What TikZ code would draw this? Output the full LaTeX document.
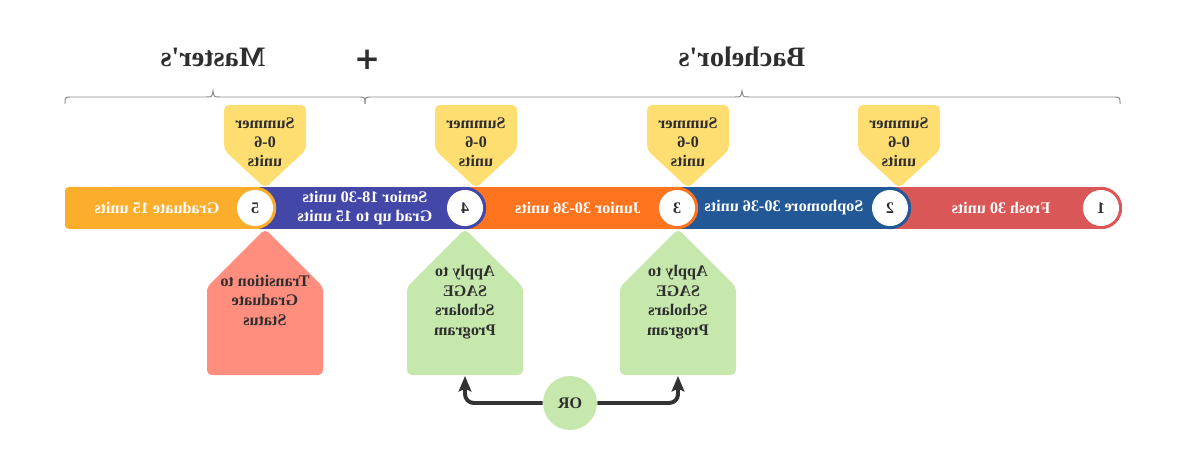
\documentclass[tikz,border=0pt]{standalone}
\usepackage{fontspec}
\setmainfont{Liberation Serif}
\newfontfamily\plusfont{DejaVu Sans}
\usetikzlibrary{arrows.meta}
\definecolor{gradc}{HTML}{FBAD2C}
\definecolor{senc}{HTML}{4347A7}
\definecolor{junc}{HTML}{FF741E}
\definecolor{sophc}{HTML}{235896}
\definecolor{froshc}{HTML}{D95757}
\definecolor{sumc}{HTML}{FEDD71}
\definecolor{salc}{HTML}{FF8E7F}
\definecolor{grnc}{HTML}{C7E8AD}
\definecolor{txtd}{HTML}{2E2E2E}
\definecolor{bracec}{HTML}{8A8A8A}
\definecolor{connc}{HTML}{333333}
\newcommand{\mirr}[1]{\reflectbox{\begin{tabular}{@{}c@{}}#1\end{tabular}}}
\begin{document}
\begin{tikzpicture}[x=0.025cm,y=-0.025cm,
  segtxt/.style={text=white,font=\bfseries\fontsize{11.5}{14}\selectfont,inner sep=0pt},
  numcirc/.style={circle,fill=white,minimum size=0.9cm,inner sep=0pt,text=txtd,font=\bfseries\fontsize{11.5}{14}\selectfont},
  sumtxt/.style={text=txtd,font=\bfseries\fontsize{11.5}{13.5}\selectfont,inner sep=0pt},
  lowtxt/.style={text=txtd,font=\bfseries\fontsize{11.5}{14}\selectfont,inner sep=0pt},
  titletxt/.style={text=txtd,font=\bfseries\fontsize{20}{24}\selectfont,inner sep=0pt},
  bracepath/.style={draw=bracec,line width=0.7pt},
  sumbox/.style={fill=sumc,rounded corners=1.2mm},
  lowbox/.style={rounded corners=1.2mm},
  orcirc/.style={circle,fill=grnc,minimum size=1.35cm,inner sep=0pt,text=txtd,font=\bfseries\fontsize{11.5}{14}\selectfont},
  conn/.style={draw=connc,line width=2.8pt,rounded corners=2.2mm,-{Stealth[length=11pt,width=9pt,inset=2pt]}}
]
\useasboundingbox (0,0) rectangle (1200,464);

% titles
\node[titletxt] (tmas) at (213,57) {\reflectbox{Master\textquotesingle s}};
\node[titletxt,font=\plusfont\bfseries\fontsize{22}{24}\selectfont] (tplus) at (368,60) {\reflectbox{+}};
\node[titletxt] (tbac) at (742,57) {\reflectbox{Bachelor\textquotesingle s}};

% braces
\draw[bracepath] (65,104) .. controls (65,97) .. (72,97) -- (206,97) .. controls (212,97) .. (213,91) .. controls (214,97) .. (220,97) -- (358,97) .. controls (365,97) .. (365,104);
\draw[bracepath] (365,104) .. controls (365,97) .. (372,97) -- (735,97) .. controls (741,97) .. (742,91) .. controls (743,97) .. (749,97) -- (1113,97) .. controls (1120,97) .. (1120,104);

% summer boxes
\foreach \cx/\nm in {265/s5,476/s4,688/s3,899/s2}{
  \fill[sumbox] (\cx-41,105) -- (\cx+41,105) -- (\cx+41,150) -- (\cx,188) -- (\cx-41,150) -- cycle;
  \node[sumtxt] (\nm) at (\cx,144) {\mirr{Summer\\0-6\\units}};
}

% bar segments
\fill[froshc] (890,187) rectangle (1101,229);
\fill[froshc] (1101,208) circle (0.53cm);
\fill[sophc] (677,187) rectangle (890,229);
\fill[sophc] (890,208) circle (0.53cm);
\fill[junc] (465,187) rectangle (677,229);
\fill[junc] (677,208) circle (0.53cm);
\fill[senc] (255,187) rectangle (465,229);
\fill[senc] (465,208) circle (0.53cm);
\fill[gradc,rounded corners=1mm] (65,187) rectangle (110,229);
\fill[gradc] (90,187) rectangle (255,229);
\fill[gradc] (255,208) circle (0.53cm);

% number circles
\node[numcirc] (n1) at (1101,208) {\reflectbox{1}};
\node[numcirc] (n2) at (890,208) {\reflectbox{2}};
\node[numcirc] (n3) at (677,208) {\reflectbox{3}};
\node[numcirc] (n4) at (465,208) {\reflectbox{4}};
\node[numcirc] (n5) at (255,208) {\reflectbox{5}};

% segment labels
\node[segtxt] (tfrosh) at (1001,208) {\reflectbox{Frosh 30 units}};
\node[segtxt] (tsoph) at (784,208) {\reflectbox{Sophomore 30-36 units}};
\node[segtxt] (tjun) at (578,208) {\reflectbox{Junior 30-36 units}};
\node[segtxt] (tsen) at (365,208) {\mirr{Senior 18-30 units\\Grad up to 15 units}};
\node[segtxt] (tgrad) at (157,208) {\reflectbox{Graduate 15 units}};

% lower boxes
\fill[lowbox,fill=salc] (265,229) -- (323,287) -- (323,375) -- (207,375) -- (207,287) -- cycle;
\node[lowtxt] (trans) at (265,302) {\mirr{Transition to\\Graduate\\Status}};
\fill[lowbox,fill=grnc] (465,229) -- (523,287) -- (523,375) -- (407,375) -- (407,287) -- cycle;
\node[lowtxt] (appl) at (465,302) {\mirr{Apply to\\SAGE\\Scholars\\Program}};
\fill[lowbox,fill=grnc] (678,229) -- (736,287) -- (736,375) -- (620,375) -- (620,287) -- cycle;
\node[lowtxt] (appr) at (678,302) {\mirr{Apply to\\SAGE\\Scholars\\Program}};
\coordinate (applb) at (465,376);
\coordinate (apprb) at (678,376);

% OR and connectors
\node[orcirc] (or) at (570,403) {\reflectbox{OR}};
\draw[conn] (or.west) -| (applb);
\draw[conn] (or.east) -| (apprb);
\end{tikzpicture}
\end{document}
